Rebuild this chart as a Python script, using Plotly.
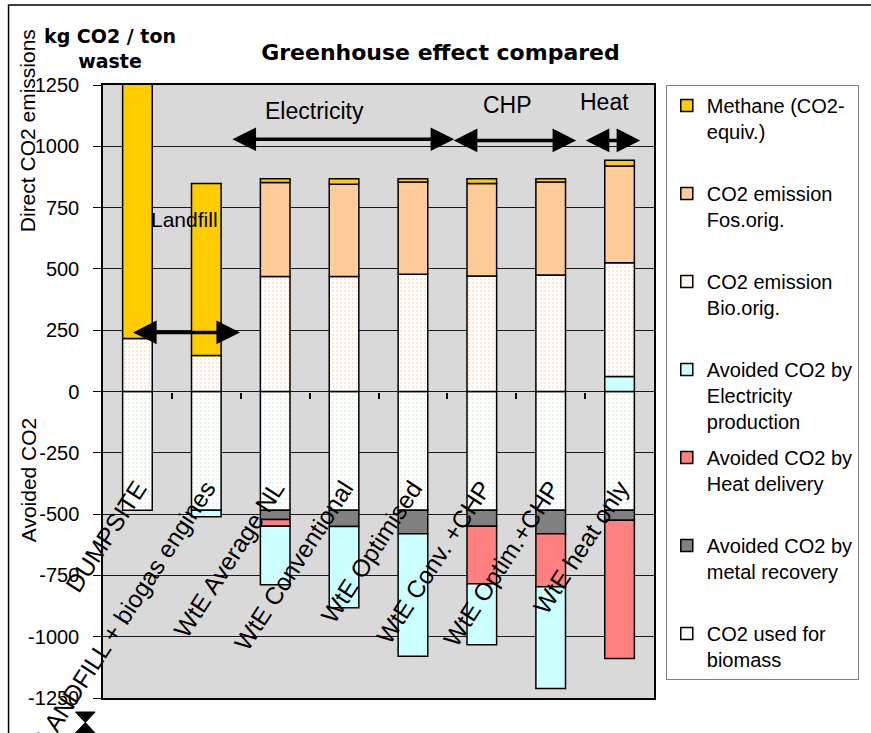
import plotly.graph_objects as go

categories = ["DUMPSITE", "LANDFILL + biogas engines", "WtE Average NL", "WtE Conventional",
              "WtE Optimised", "WtE Conv. +CHP", "WtE Optim.+CHP", "WtE heat only"]

# kg CO2 / ton waste (positive = direct emissions, negative = avoided)
methane = [1200, 701, 16, 23, 14, 20, 14, 23]
co2_fossil = [None, None, 383, 376, 376, 377, 379, 395]
co2_bio = [216, 147, 469, 469, 478, 471, 475, 464]
avoided_electricity = [None, -27, -238, -331, -500, -249, -415, 61]
avoided_heat = [None, None, -28, None, None, -234, -216, -564]
avoided_metal = [None, None, -38, -67, -96, -66, -96, -41]
co2_biomass = [-484, -484, -484, -484, -484, -484, -484, -484]

y_tick_values = [1250, 1000, 750, 500, 250, 0, -250, -500, -750, -1000, -1250]
y_tick_labels = ["1250", "1000", "750", "500", "250", "0", "-250", "-500", "-750", "-1000", "-1250"]

x_pos = list(range(len(categories)))
boundaries = [i + 0.5 for i in x_pos[:-1]]

FONT = "Liberation Sans, Arial, sans-serif"
BOLD = "DejaVu Sans, sans-serif"
EDGE = dict(color="black", width=1.5)

# (legend text, values, marker, legend rank) -- trace order sets the stacking order
series = [
    ("CO2 used for<br>biomass", co2_biomass, dict(color="#F4FFF4", line=EDGE,
        pattern=dict(shape=".", fgcolor="#C8F0C8", bgcolor="#FFFFFF", size=4, solidity=0.25)), 7),
    ("Avoided CO2 by<br>metal recovery<br> ", avoided_metal, dict(color="#808080", line=EDGE), 6),
    ("Avoided CO2 by<br>Heat delivery<br> ", avoided_heat, dict(color="#FF8080", line=EDGE), 5),
    ("Avoided CO2 by<br>Electricity<br>production", avoided_electricity, dict(color="#CCFFFF", line=EDGE), 4),
    ("CO2 emission<br>Bio.orig.<br> ", co2_bio, dict(color="#FFF0E2", line=EDGE,
        pattern=dict(shape=".", fgcolor="#FFCC99", bgcolor="#FFFFFF", size=4, solidity=0.25)), 3),
    ("CO2 emission<br>Fos.orig.<br> ", co2_fossil, dict(color="#FFCC99", line=EDGE), 2),
    ("Methane (CO2-<br>equiv.)<br> ", methane, dict(color="#FFCC00", line=EDGE), 1),
]

fig = go.Figure()
for name, vals, marker, rank in series:
    fig.add_trace(go.Bar(x=x_pos, y=vals, name=name, marker=marker, width=0.43,
                         legendgroup=name, legendrank=rank, hoverinfo="y+name"))

# empty helper traces so that the label axis and the zero-line tick axis are rendered
fig.add_trace(go.Scatter(x=[], y=[], xaxis="x2", yaxis="y", showlegend=False, hoverinfo="skip"))
fig.add_trace(go.Scatter(x=[], y=[], xaxis="x3", yaxis="y", showlegend=False, hoverinfo="skip"))

fig.update_layout(
    width=871, height=733,
    margin=dict(l=103, r=208, t=85, b=35),
    barmode="relative",
    paper_bgcolor="white",
    plot_bgcolor="#D9D9D9",
    font=dict(family=FONT, color="black"),
    title=dict(text="<b>Greenhouse effect compared</b>", xref="paper", x=0.6125, xanchor="center",
               yref="container", y=1 - 52 / 733, yanchor="middle",
               font=dict(family=BOLD, size=22, color="black")),
    legend=dict(x=1.0214, y=1, xanchor="left", yanchor="top", traceorder="grouped",
                tracegroupgap=7,
                font=dict(family=FONT, size=20, color="black"), bordercolor="#808080",
                borderwidth=1, bgcolor="white", valign="top"),
    xaxis=dict(range=[-0.5, 7.5], showticklabels=False, ticks="", showgrid=False,
               zeroline=False, showline=True, mirror=True, linecolor="black", linewidth=1.5,
               automargin=False),
    xaxis2=dict(overlaying="x", anchor="free", position=0.375, range=[-0.5, 7.5],
                tickvals=x_pos, ticktext=categories, tickangle=-57, ticks="",
                showline=False, showgrid=False, zeroline=False, automargin=False,
                tickfont=dict(family=FONT, size=24.5, color="black")),
    xaxis3=dict(overlaying="x", anchor="free", position=(698 - 392) / 613, range=[-0.5, 7.5],
                tickvals=boundaries, showticklabels=False, ticks="outside", ticklen=6,
                tickwidth=1.5, tickcolor="black", showline=False, showgrid=False,
                zeroline=False, automargin=False),
    yaxis=dict(range=[-1250, 1250], tickvals=y_tick_values, ticktext=y_tick_labels,
               ticks="outside", ticklen=8, tickcolor="black", tickwidth=1.2,
               showgrid=True, gridcolor="#1a1a1a", gridwidth=1, zeroline=False,
               showline=True, mirror=True, linecolor="black", linewidth=1.5,
               tickfont=dict(family=FONT, size=20, color="black"), ticklabelstandoff=10,
               automargin=False),
    showlegend=True,
)

# axis titles and header
fig.add_annotation(text="Direct CO2 emissions", xref="paper", yref="paper", x=-0.1357, y=0.925,
                   xanchor="center", yanchor="middle",
                   textangle=-90, showarrow=False, font=dict(family=FONT, size=21))
fig.add_annotation(text="Avoided CO2", xref="paper", yref="paper", x=-0.1357, y=0.3556,
                   xanchor="center", yanchor="middle",
                   textangle=-90, showarrow=False, font=dict(family=FONT, size=21))
fig.add_annotation(text="<b>kg CO2 / ton<br>waste</b>", xref="paper", yref="paper", x=0.0125,
                   y=1.0595, xanchor="center", yanchor="middle", showarrow=False,
                   font=dict(family=BOLD, size=19))

# group labels
for txt, gx, gy, fs in [("Electricity", 2.571, 1143, 23), ("CHP", 5.371, 1167, 23),
                        ("Heat", 6.786, 1180, 23), ("Landfill", 0.686, 702, 21)]:
    fig.add_annotation(text=txt, x=gx, y=gy, xref="x", yref="y", showarrow=False,
                       xanchor="center", yanchor="middle", font=dict(family=FONT, size=fs))

# double-headed arrows
for x0, x1, ya in [(1.357, 4.6, 1029), (4.571, 6.37, 1024), (6.486, 7.3, 1024),
                   (-0.086, 1.49, 241)]:
    fig.add_annotation(text="", x=x1, y=ya, ax=x0, ay=ya, xref="x", yref="y", axref="x", ayref="y",
                       showarrow=True, arrowhead=2, startarrowhead=2, arrowside="end+start",
                       arrowwidth=3.5, arrowsize=1.35, startarrowsize=1.35, arrowcolor="black",
                       standoff=0, startstandoff=0)

# small hourglass marker at bottom-left and outer frame
xa, xb, yt, yb = -0.05, -0.01429, -0.02284, -0.0571
fig.add_shape(type="path", xref="paper", yref="paper",
              path=f"M{xa},{yt} L{xb},{yt} L{xa},{yb} L{xb},{yb} Z",
              fillcolor="black", line=dict(color="black", width=1))
fig.add_shape(type="rect", xref="paper", yref="paper", x0=-0.1714, x1=1.45, y0=-0.12, y1=1.1305,
              line=dict(color="black", width=1.5), fillcolor="rgba(0,0,0,0)")

fig.write_html("out.html", config={"displayModeBar": False},
               post_script="document.body.style.margin='0px';")
